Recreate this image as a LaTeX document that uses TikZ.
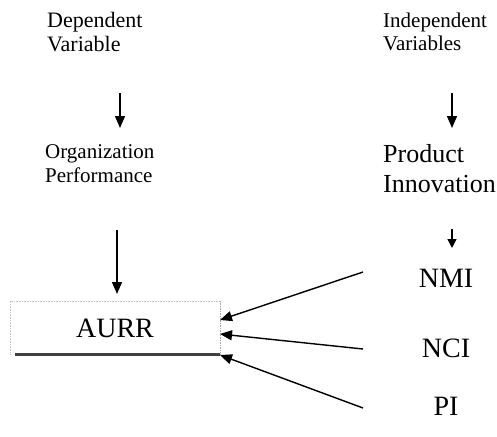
\documentclass[tikz,border=0pt]{standalone}
\usepackage{fontspec}
\setmainfont{Liberation Serif}
\usetikzlibrary{arrows.meta}
\begin{document}
\begin{tikzpicture}[x=1pt,y=-1pt,
  lbl/.style={inner sep=0pt, anchor=base west, align=left},
  ctr/.style={inner sep=0pt, anchor=base},
  arr/.style={line width=1.4pt, -{Triangle[length=12pt,width=10pt]}},
  boxedge/.style={gray!45, line width=0.6pt, densely dotted},
  ]
\useasboundingbox (0,0) rectangle (497,436);
% left column (base anchor = baseline of last line)
\node[lbl, font=\fontsize{22}{24}\selectfont] (dep) at (47,52) {Dependent\\Variable};
\node[lbl, font=\fontsize{21}{24}\selectfont] (org) at (45,182) {Organization\\Performance};
% right column
\node[lbl, font=\fontsize{21}{24}\selectfont] (ind) at (383,51) {Independent\\Variables};
\node[lbl, font=\fontsize{26}{30}\selectfont] (prod) at (383,192) {Product\\Innovation};
\node[ctr, font=\fontsize{28}{30}\selectfont] (nmi) at (446,287) {NMI};
\node[ctr, font=\fontsize{28}{30}\selectfont] (nci) at (446,357) {NCI};
\node[ctr, font=\fontsize{28}{30}\selectfont] (pi) at (446,415) {PI};
% AURR box
\node[inner sep=0pt, minimum width=210pt, minimum height=53pt] (box) at (115,327.5) {};
\node[ctr, font=\fontsize{28}{30}\selectfont] (aurr) at (115,337) {AURR};
\draw[boxedge] (box.south west) -- (box.north west) -- (box.north east);
\draw[gray!70, line width=0.7pt, densely dotted] (box.north east) -- (box.south east);
\draw[black!75, line width=2.6pt] ([xshift=5pt]box.south west) -- (box.south east);
% arrow coordinates
\coordinate (a1s) at (120,93);  \coordinate (a1e) at (120,128);
\coordinate (a2s) at (117,230); \coordinate (a2e) at (117,294);
\coordinate (a3s) at (452,93);  \coordinate (a3e) at (452,128);
\coordinate (a4s) at (452,229); \coordinate (a4e) at (452,248);
\coordinate (n1) at (363,272); \coordinate (n2) at (363,349); \coordinate (n3) at (363,408);
\coordinate (t1) at (220,320); \coordinate (t2) at (220,334); \coordinate (t3) at (220,355);
\draw[arr] (a1s) -- (a1e);
\draw[arr] (a2s) -- (a2e);
\draw[arr] (a3s) -- (a3e);
\draw[line width=1.4pt, -{Triangle[length=9pt,width=9pt]}] (a4s) -- (a4e);
\draw[arr] (n1) -- (t1);
\draw[arr] (n2) -- (t2);
\draw[arr] (n3) -- (t3);
\end{tikzpicture}
\end{document}
